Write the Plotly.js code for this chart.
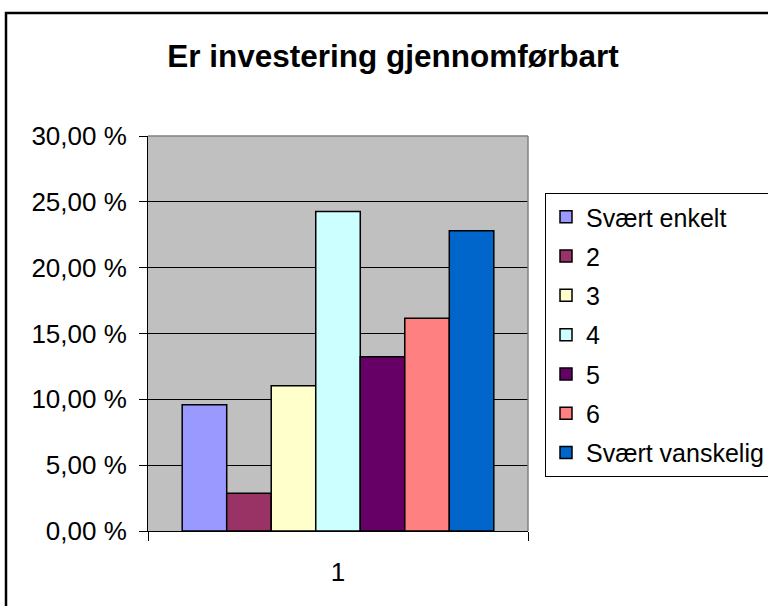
<!DOCTYPE html>
<html>
<head>
<meta charset="utf-8">
<script src="https://cdn.plot.ly/plotly-3.0.1.min.js"></script>
<style>html,body{margin:0;padding:0;background:#fff;}#chart{width:768px;height:606px;}</style>
</head>
<body>
<div id="chart"></div>
<script>
const categories = ['1'];
const seriesNames = ['Svært enkelt', '2', '3', '4', '5', '6', 'Svært vanskelig'];
const seriesValues = [9.59, 2.86, 11.03, 24.27, 13.24, 16.15, 22.80];
const seriesColors = ['#9999FF', '#993366', '#FFFFCC', '#CCFFFF', '#660066', '#FF8080', '#0066CC'];
const yTickVals = [0, 5, 10, 15, 20, 25, 30];
const yTickText = ['0,00 %', '5,00 %', '10,00 %', '15,00 %', '20,00 %', '25,00 %', '30,00 %'];

const FONT = 'Liberation Sans, Arial, sans-serif';

const traces = seriesNames.map((name, i) => ({
  type: 'bar',
  name: name,
  legendgroup: 'g' + i,
  x: categories,
  y: [seriesValues[i]],
  marker: { color: seriesColors[i], line: { color: '#000000', width: 1.5 } },
  hoverinfo: 'skip'
}));

const layout = {
  width: 768,
  height: 606,
  margin: { l: 148, r: 240, t: 136, b: 75, autoexpand: false },
  paper_bgcolor: '#ffffff',
  plot_bgcolor: '#C0C0C0',
  font: { family: FONT, size: 26, color: '#000000' },
  barmode: 'group',
  bargap: 0.18,
  bargroupgap: 0,
  title: {
    text: '<b>Er investering gjennomførbart</b>',
    font: { family: FONT, size: 31.5, color: '#000000' },
    xref: 'paper', x: 0.6447, xanchor: 'center',
    yref: 'container', y: 1 - 56 / 606, yanchor: 'middle'
  },
  xaxis: {
    type: 'category',
    range: [-0.5, 0.5],
    showline: true, linecolor: '#000000', linewidth: 1,
    ticks: 'outside', tickson: 'boundaries', ticklen: 9, tickcolor: '#000000', tickwidth: 1,
    showgrid: false, zeroline: false,
    tickfont: { family: FONT, size: 26, color: '#000000' },
    ticklabelstandoff: 18,
    fixedrange: true
  },
  yaxis: {
    range: [0, 30],
    tickvals: yTickVals,
    ticktext: yTickText,
    showline: true, linecolor: '#000000', linewidth: 1,
    ticks: 'outside', ticklen: 8, tickcolor: '#000000', tickwidth: 1,
    showgrid: true, gridcolor: '#000000', gridwidth: 1,
    zeroline: false,
    tickfont: { family: FONT, size: 26, color: '#000000' },
    ticklabelstandoff: 7,
    fixedrange: true
  },
  legend: {
    x: (545 - 148) / 380, xanchor: 'left', xref: 'paper',
    y: (531 - 193) / 395, yanchor: 'top', yref: 'paper',
    bgcolor: '#ffffff', bordercolor: '#000000', borderwidth: 1,
    font: { family: FONT, size: 25, color: '#000000' },
    traceorder: 'grouped',
    tracegroupgap: 3.8,
    itemclick: false, itemdoubleclick: false
  },
  shapes: [
    { type: 'line', xref: 'paper', yref: 'paper', x0: 0, x1: 1, y0: 1, y1: 1,
      line: { color: '#808080', width: 1.5 } },
    { type: 'line', xref: 'paper', yref: 'paper', x0: 1, x1: 1, y0: 0, y1: 1,
      line: { color: '#808080', width: 1.5 } },
    { type: 'rect', xref: 'paper', yref: 'paper',
      x0: (6 - 148) / 380, x1: 2.0, y0: -1.0, y1: (531 - 13) / 395,
      line: { color: '#000000', width: 2.5 }, fillcolor: 'rgba(0,0,0,0)' }
  ]
};

Plotly.newPlot('chart', traces, layout, { staticPlot: true, displayModeBar: false });
</script>
</body>
</html>
